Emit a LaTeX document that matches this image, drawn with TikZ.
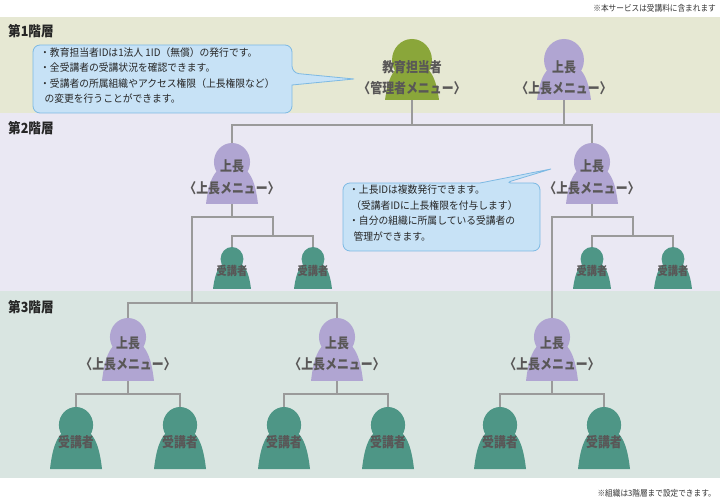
\documentclass[tikz,border=0pt]{standalone}
\usepackage{fontspec}
\setmainfont{Noto Sans CJK JP}
\usetikzlibrary{calc}
\definecolor{bandA}{HTML}{E6E8D3}
\definecolor{bandB}{HTML}{EAE8F3}
\definecolor{bandC}{HTML}{D9E5E1}
\definecolor{pgreen}{HTML}{8AA63A}
\definecolor{ppurple}{HTML}{B0A5D2}
\definecolor{pteal}{HTML}{4E9686}
\definecolor{txt}{HTML}{595757}
\definecolor{callfill}{HTML}{C7E2F6}
\definecolor{calldraw}{HTML}{7DB9E3}
\definecolor{conncol}{HTML}{9A9A9A}
\tikzset{
  conn/.style={draw=conncol,line width=2pt},
  lab/.style={text=txt,font=\bfseries\fontsize{14}{15}\selectfont,inner sep=0,xscale=0.85},
  slab/.style={text=txt,font=\bfseries\fontsize{12}{13}\selectfont,inner sep=0,xscale=0.85},
  tier/.style={text=black!85,font=\bfseries\fontsize{14}{15}\selectfont,anchor=west,inner sep=0,xscale=0.9},
  note/.style={text=black!80,font=\fontsize{8.5}{9}\selectfont,inner sep=0,xscale=0.9},
  call/.style={fill=callfill,draw=calldraw,line width=0.8pt,rounded corners=7pt},
  ctext/.style={text=black!85,font=\fontsize{10.3}{15.5}\selectfont,anchor=north west,align=left,inner sep=0,xscale=0.95}
}
% \personfig{name}{cx}{headtop}{bottom}{hr}{bw}{color}
\newcommand{\personfig}[7]{%
  \pgfmathsetmacro{\pfhc}{#3+#5}%
  \pgfmathsetmacro{\pfbt}{#3+1.15*#5}%
  \pgfmathsetmacro{\pfbl}{#2-#6}%
  \pgfmathsetmacro{\pfbr}{#2+#6}%
  \pgfmathsetmacro{\pfcl}{#2-0.7*#6}%
  \pgfmathsetmacro{\pfcr}{#2+0.7*#6}%
  \pgfmathsetmacro{\pfcm}{\pfbt+0.45*(#4-\pfbt)}%
  \fill[#7] (\pfbl,#4) .. controls (\pfbl+0.1*#6,\pfcm) and (\pfcl,\pfbt) .. (#2,\pfbt)
     .. controls (\pfcr,\pfbt) and (\pfbr-0.1*#6,\pfcm) .. (\pfbr,#4) -- cycle;
  \fill[#7] (#2,\pfhc) ellipse ({#5*0.95} and #5);
  \coordinate (#1-t) at (#2,#3);
  \coordinate (#1-b) at (#2,#4);
}
\begin{document}
\begin{tikzpicture}[x=1pt,y=-1pt]
\useasboundingbox (0,0) rectangle (720,502);
\fill[white] (0,0) rectangle (720,502);
\fill[bandA] (0,17) rectangle (720,113);
\fill[bandB] (0,113) rectangle (720,291);
\fill[bandC] (0,291) rectangle (720,478);
\node[note,anchor=east] (n1) at (716,8) {※本サービスは受講料に含まれます};
\node[note,anchor=east] (n2) at (716,493) {※組織は3階層まで設定できます。};
\node[tier] (t1) at (8,31) {第1階層};
\node[tier] (t2) at (8,128) {第2階層};
\node[tier] (t3) at (8,307) {第3階層};

\coordinate (y125) at (0,125);
\coordinate (y217) at (0,217);
\coordinate (y236) at (0,236);
\coordinate (y303) at (0,303);
\coordinate (y394) at (0,394);
\coordinate (xA) at (192,0);
\coordinate (xB) at (273,0);
\coordinate (xC) at (551,0);
\coordinate (xD) at (633,0);

\personfig{g}{412}{39}{100}{21}{27}{pgreen}
\personfig{p1}{564}{39}{100}{21}{27}{ppurple}
\personfig{l2a}{232}{143}{204}{19}{26}{ppurple}
\personfig{l2b}{592}{143}{204}{19}{26}{ppurple}
\personfig{s1}{232}{247}{289}{12}{19}{pteal}
\personfig{s2}{313}{247}{289}{12}{19}{pteal}
\personfig{s3}{592}{247}{289}{12}{19}{pteal}
\personfig{s4}{673}{247}{289}{12}{19}{pteal}
\personfig{l3a}{128}{318}{381}{19}{26}{ppurple}
\personfig{l3b}{337}{318}{381}{19}{26}{ppurple}
\personfig{l3c}{552}{318}{381}{19}{26}{ppurple}
\personfig{u1}{76}{407}{469}{18}{26}{pteal}
\personfig{u2}{180}{407}{469}{18}{26}{pteal}
\personfig{u3}{284}{407}{469}{18}{26}{pteal}
\personfig{u4}{388}{407}{469}{18}{26}{pteal}
\personfig{u5}{500}{407}{469}{18}{26}{pteal}
\personfig{u6}{604}{407}{469}{18}{26}{pteal}

\draw[conn] (g-b) -- (g-b|-y125);
\draw[conn] (p1-b) -- (p1-b|-y125);
\draw[conn] (l2a-t) |- (l2b-t|-y125) -- (l2b-t);
\draw[conn] (l2a-b) -- (l2a-b|-y217);
\draw[conn] (l3a-t) |- (xA|-y303) |- (xB|-y217) -- (xB|-y236);
\draw[conn] (xA|-y303) -| (l3b-t);
\draw[conn] (s1-t) |- (s2-t|-y236) -- (s2-t);
\draw[conn] (l2b-b) -- (l2b-b|-y217);
\draw[conn] (l3c-t) |- (xC|-y217) -| (xD|-y236);
\draw[conn] (s3-t) |- (s4-t|-y236) -- (s4-t);
\draw[conn] (l3a-b) -- (l3a-b|-y394);
\draw[conn] (u1-t) |- (u2-t|-y394) -- (u2-t);
\draw[conn] (l3b-b) -- (l3b-b|-y394);
\draw[conn] (u3-t) |- (u4-t|-y394) -- (u4-t);
\draw[conn] (l3c-b) -- (l3c-b|-y394);
\draw[conn] (u5-t) |- (u6-t|-y394) -- (u6-t);

\node[lab] (gl1) at (412,67) {教育担当者};
\node[lab] (gl2) at (412,88) {〈管理者メニュー〉};
\foreach \n/\x/\ya/\yb in {a/564/67/88, b/232/166/188, c/592/166/188, d/128/343/364, e/337/343/364, f/552/343/364}{
  \node[lab] (m\n1) at (\x,\ya) {上長};
  \node[lab] (m\n2) at (\x,\yb) {〈上長メニュー〉};
}
\foreach \x/\k in {232/1,313/2,592/3,673/4}{\node[slab] (sl\k) at (\x,271) {受講者};}
\foreach \x/\k in {76/1,180/2,284/3,388/4,500/5,604/6}{\node[lab] (ul\k) at (\x,442) {受講者};}

\draw[call] (292,85) -- (292,113) -- (33,113) -- (33,45) -- (292,45) -- (292,73) [sharp corners] -- (354,79) -- cycle;
\node[ctext] (c1) at (40,47) {・教育担当者IDは1法人 1ID（無償）の発行です。\\・全受講者の受講状況を確認できます。\\・受講者の所属組織やアクセス権限（上長権限など）\\\ \ の変更を行うことができます。};
\draw[call] (480,183) -- (343,183) -- (343,251) -- (540,251) -- (540,183) -- (505,183) [sharp corners] -- (551,169) -- cycle;
\node[ctext] (c2) at (349,185) {・上長IDは複数発行できます。\\\ （受講者IDに上長権限を付与します）\\・自分の組織に所属している受講者の\\\ \ 管理ができます。};
\end{tikzpicture}
\end{document}
